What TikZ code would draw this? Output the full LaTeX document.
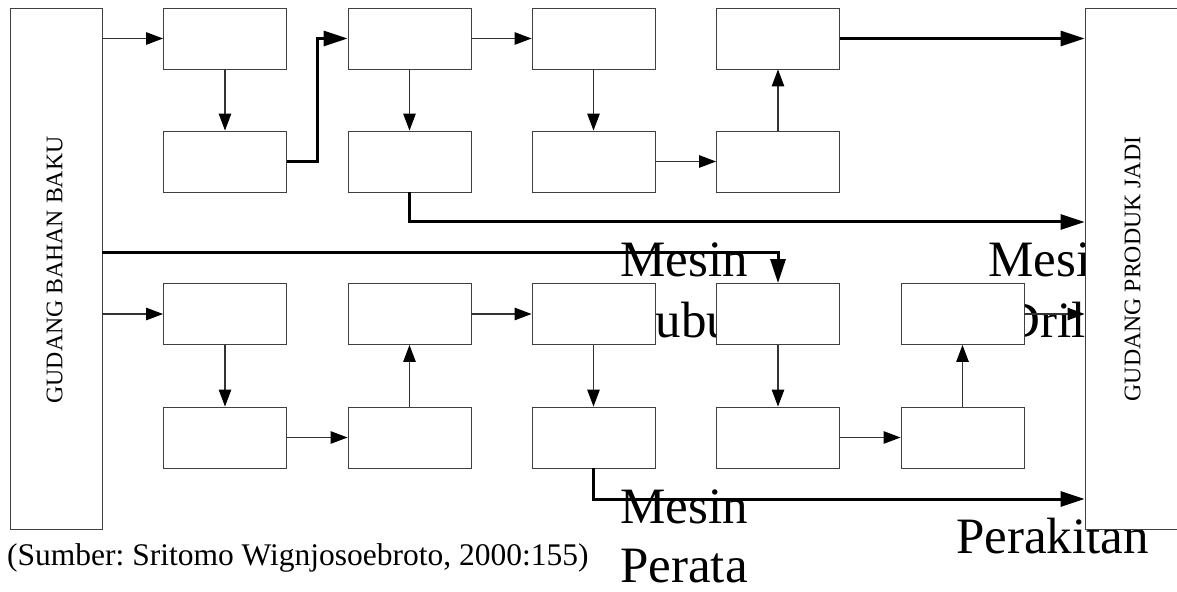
\documentclass[tikz,border=0pt]{standalone}
\usepackage{fontspec}
\setmainfont{Liberation Serif}
\usetikzlibrary{arrows.meta}
\frenchspacing
\begin{document}
\begin{tikzpicture}[x=1bp,y=-1bp,
  box/.style={draw=black!75, line width=0.9bp, fill=white, minimum width=123bp, minimum height=61bp, inner sep=0pt},
  store/.style={draw=black!75, line width=0.9bp, fill=white, inner sep=0pt, minimum height=521bp},
  thinarr/.style={draw=black!80, line width=1.2bp, -{Triangle[length=17bp,width=12.5bp,color=black]}},
  thickarr/.style={draw=black, line width=3bp, -{Triangle[length=24bp,width=15bp]}},
  big/.style={font=\fontsize{51bp}{61bp}\selectfont, inner sep=0pt, anchor=base},
  lab/.style={font=\fontsize{23.8bp}{28bp}\selectfont, inner sep=0pt, rotate=90}]
\useasboundingbox (0,0) rectangle (1177,592);

% large labels (partly hidden behind the boxes)
\node[big] (mb1) at (684,277) {Mesin};
\node[big] (mb2) at (684,338) {Bubut};
\node[big] (md1) at (1052,277) {Mesin};
\node[big] (md2) at (1052,338) {Drill};
\node[big] (mp1) at (684,523) {Mesin};
\node[big] (mp2) at (684,582) {Perata};
\node[big] (mk) at (1052.5,553) {Perakitan};

% stores
\node[store, minimum width=92bp] (gb) at (56,268.5) {};
\node[lab] (gbt) at (54.5,270) {GUDANG BAHAN BAKU};
\node[store, minimum width=100bp] (gp) at (1135,268.5) {};
\node[lab] (gpt) at (1132.5,269) {GUDANG PRODUK JADI};

% machine boxes
\node[box] (A1) at (225,38.5) {};
\node[box] (A2) at (225,161.5) {};
\node[box] (B1) at (409.5,38.5) {};
\node[box] (B2) at (409.5,161.5) {};
\node[box] (C1) at (593.5,38.5) {};
\node[box] (C2) at (593.5,161.5) {};
\node[box] (D1) at (778,38.5) {};
\node[box] (D2) at (778,161.5) {};

\node[box] (A3) at (225,314) {};
\node[box] (A4) at (225,437.5) {};
\node[box] (B3) at (409.5,314) {};
\node[box] (B4) at (409.5,437.5) {};
\node[box] (C3) at (593.5,314) {};
\node[box] (C4) at (593.5,437.5) {};
\node[box] (D3) at (778,314) {};
\node[box] (D4) at (778,437.5) {};
\node[box] (E3) at (962.5,314) {};
\node[box] (E4) at (962.5,437.5) {};

% helper coordinates
\coordinate (xA) at (317,0);
\coordinate (yB) at (0,222);
\coordinate (yT) at (0,253);
\coordinate (yC) at (0,499);

% thin connectors, upper part
\draw[thinarr] (A1 -| gb.east) -- (A1.west);
\draw[thinarr] (A1.south) -- (A2.north);
\draw[thinarr] (B1.east) -- (C1.west);
\draw[thinarr] (B1.south) -- (B2.north);
\draw[thinarr] (C1.south) -- (C2.north);
\draw[thinarr] (C2.east) -- (D2.west);
\draw[thinarr] (D2.north) -- (D1.south);

% thin connectors, lower part
\draw[thinarr] (A3 -| gb.east) -- (A3.west);
\draw[thinarr] (A3.south) -- (A4.north);
\draw[thinarr] (A4.east) -- (B4.west);
\draw[thinarr] (B4.north) -- (B3.south);
\draw[thinarr] (B3.east) -- (C3.west);
\draw[thinarr] (C3.south) -- (C4.north);
\draw[thinarr] (D3.south) -- (D4.north);
\draw[thinarr] (D4.east) -- (E4.west);
\draw[thinarr] (E4.north) -- (E3.south);
\draw[thinarr] (E3.east) -- (E3 -| gp.west);

% thick connectors
\draw[thickarr] (A2.east) -- (A2.east -| xA) -- (B1.west -| xA) -- (B1.west);
\draw[thickarr] (D1.east) -- (D1 -| gp.west);
\draw[thickarr] (B2.south) -- (B2.south |- yB) -- (gp.west |- yB);
\draw[thickarr] (gb.east |- yT) -- (D3.north |- yT) -- (D3.north);
\draw[thickarr] (C4.south) -- (C4.south |- yC) -- (gp.west |- yC);

% source
\node[font=\fontsize{31.5bp}{36bp}\selectfont, anchor=base west, inner sep=0pt] (src) at (7,565) {(Sumber: Sritomo Wignjosoebroto, 2000:155)};
\end{tikzpicture}
\end{document}
